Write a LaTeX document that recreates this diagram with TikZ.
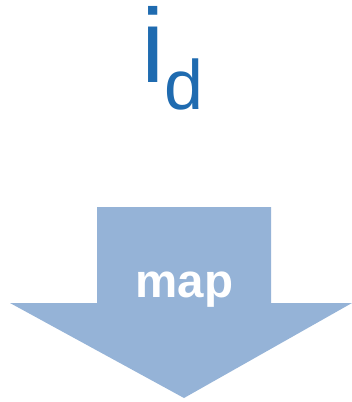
\documentclass[tikz,border=0pt]{standalone}
\usepackage{fontspec}
\setmainfont{Liberation Sans}
\usetikzlibrary{calc,positioning}
\definecolor{idblue}{HTML}{1F6BB0}
\definecolor{arrowfill}{HTML}{95B3D7}
\tikzset{idtext/.style={inner sep=0pt, anchor=base, text=idblue}}

\begin{document}
\begin{tikzpicture}[x=1pt,y=-1pt]
\useasboundingbox (0,0) rectangle (352,402);
\node[idtext, font=\fontsize{105}{105}\selectfont] (i) at (153.5,82) {i};
\node[idtext, font=\fontsize{70}{70}\selectfont] (d) at (184,109) {d};
\fill[arrowfill] (97,207) -- (271,207) -- (271,303) -- (352,303) -- (184,398) -- (10,303) -- (97,303) -- cycle;
\node[inner sep=0pt, anchor=base, text=white, font=\fontsize{47.5}{47.5}\selectfont\bfseries] (map) at (184.5,297) {map};
\end{tikzpicture}
\end{document}
